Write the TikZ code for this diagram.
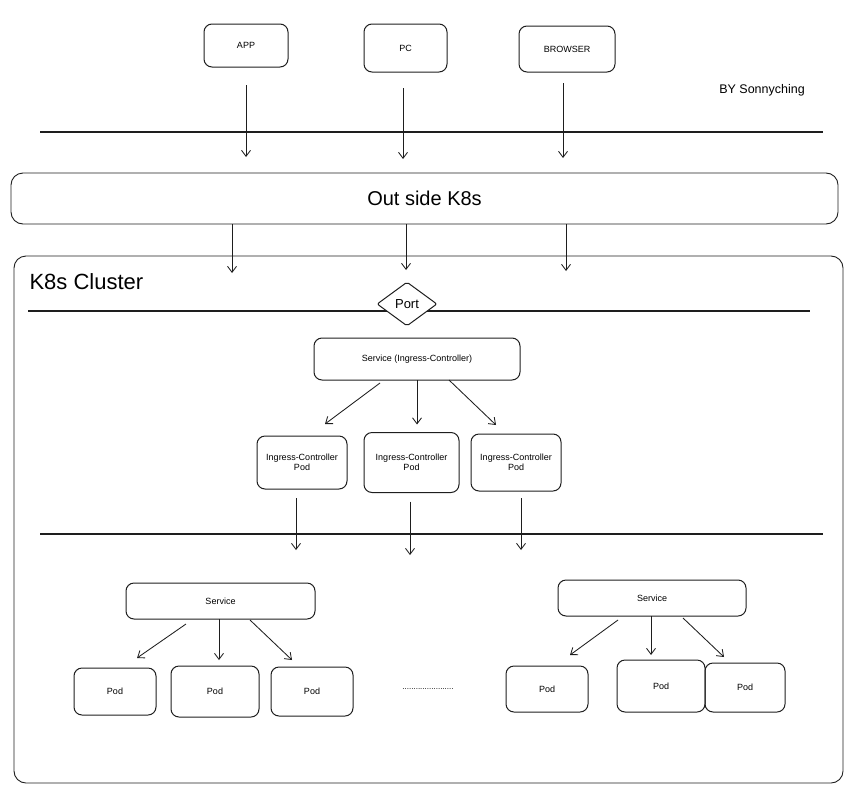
\documentclass[tikz,border=0pt]{standalone}
\usepackage{fontspec}
\setmainfont{Liberation Sans}
\usetikzlibrary{arrows.meta,positioning,shapes.geometric}
\definecolor{ink}{HTML}{1E1E1E}

\begin{document}
\begin{tikzpicture}[
    x=1pt, y=-1pt,
    box/.style={rectangle, draw=ink, line width=1pt, rounded corners=8pt, align=center, inner sep=2pt, outer sep=0pt, font=\fontsize{9}{10}\selectfont},
    frame/.style={rectangle, draw=ink, line width=0.9pt, rounded corners=12pt},
    arrow/.style={-{Straight Barb[length=6pt,width=9pt]}, line width=0.85pt, color=ink},
    rule/.style={line width=1.1pt, color=ink}
]
\useasboundingbox (0,0) rectangle (861,803);

\node[box, minimum width=84pt, minimum height=43pt] (app) at (246,45.5) {APP};
\node[box, minimum width=83pt, minimum height=48pt, right=76pt of app, yshift=-2.5pt] (pc) {PC};
\node[box, minimum width=96pt, minimum height=46pt, right=72pt of pc, yshift=-1pt] (browser) {BROWSER};
\node[font=\fontsize{12.5}{14}\selectfont] (credit) at (762,90) {BY Sonnyching};

\coordinate (appin) at (246,157);
\coordinate (pcin) at (403,159);
\coordinate (browserin) at (563,158);
\draw[rule] (40,132) -- (823,132);
\draw[arrow, shorten <=18pt] (app.south) -- (appin);
\draw[arrow, shorten <=16pt] (pc.south -| pcin) -- (pcin);
\draw[arrow, shorten <=11pt] (browser.south -| browserin) -- (browserin);

\node[frame, minimum width=827pt, minimum height=51pt, font=\fontsize{20}{22}\selectfont] (outside) at (424.5,198.5) {Out side K8s};
\node[frame, minimum width=829pt, minimum height=527pt] (cluster) at (428.5,519.5) {};
\node[anchor=west, font=\fontsize{22}{24}\selectfont] (title) at (26,282) {K8s Cluster};

\coordinate (k1) at (232,273);
\coordinate (k2) at (406,270);
\coordinate (k3) at (566,271);
\draw[arrow] (outside.south -| k1) -- (k1);
\draw[arrow] (outside.south -| k2) -- (k2);
\draw[arrow] (outside.south -| k3) -- (k3);

\draw[rule] (28,311) -- (810,311);
\node[diamond, draw=ink, fill=white, line width=1pt, rounded corners=2pt, inner sep=0pt, minimum width=60pt, minimum height=44pt, font=\fontsize{13}{14}\selectfont] (port) at (407,304) {Port};

\node[box, minimum width=206pt, minimum height=42pt] (ingsvc) at (417,359) {Service (Ingress-Controller)};
\node[box, minimum width=90pt, minimum height=53pt] (icpod1) at (302,462.5) {Ingress-Controller\\Pod};
\node[box, minimum width=95pt, minimum height=60pt, right=17pt of icpod1] (icpod2) {Ingress-Controller\\Pod};
\node[box, minimum width=90pt, minimum height=57pt, right=12pt of icpod2] (icpod3) {Ingress-Controller\\Pod};

\draw[arrow] ([xshift=-37pt,yshift=-3pt]ingsvc.south) -- ([xshift=23pt,yshift=12pt]icpod1.north);
\draw[arrow, shorten >=8pt] (ingsvc.south) -- (ingsvc.south |- icpod2.north);
\draw[arrow] ([xshift=32pt]ingsvc.south) -- ([xshift=-20pt,yshift=9pt]icpod3.north);

\coordinate (gw1) at (296,550);
\coordinate (gw2) at (410,555);
\coordinate (gw3) at (521,550);
\draw[rule] (40,534) -- (823,534);
\draw[arrow, shorten <=9pt] (icpod1.south -| gw1) -- (gw1);
\draw[arrow, shorten <=9pt] (icpod2.south -| gw2) -- (gw2);
\draw[arrow, shorten <=7pt] (icpod3.south -| gw3) -- (gw3);

\node[box, minimum width=189pt, minimum height=36pt] (svca) at (220.5,601) {Service};
\node[box, minimum width=82pt, minimum height=47pt] (poda1) at (115,691.5) {Pod};
\node[box, minimum width=88pt, minimum height=51pt, right=15pt of poda1] (poda2) {Pod};
\node[box, minimum width=82pt, minimum height=49pt, right=12pt of poda2] (poda3) {Pod};

\draw[arrow] ([xshift=-34.5pt,yshift=-5pt]svca.south) -- ([xshift=22pt,yshift=10pt]poda1.north);
\draw[arrow, shorten >=6pt] ([xshift=-1.5pt]svca.south) -- ([xshift=-1.5pt]svca.south |- poda2.north);
\draw[arrow] ([xshift=29.5pt,yshift=-1pt]svca.south) -- ([xshift=-20pt,yshift=7pt]poda3.north);

\node[font=\fontsize{8}{9}\selectfont] (more) at (428,689) {.......................};

\node[box, minimum width=188pt, minimum height=36pt] (svcb) at (652,598) {Service};
\node[box, minimum width=82pt, minimum height=46pt] (podb1) at (547,689) {Pod};
\node[box, minimum width=88pt, minimum height=52pt, right=29pt of podb1, yshift=3pt] (podb2) {Pod};
\node[box, minimum width=80pt, minimum height=49pt, right=0pt of podb2, yshift=-1.5pt] (podb3) {Pod};

\draw[arrow] ([xshift=-34pt,yshift=-4pt]svcb.south) -- ([xshift=23pt,yshift=11pt]podb1.north);
\draw[arrow, shorten >=5pt] ([xshift=-1pt]svcb.south) -- ([xshift=-1pt]svcb.south |- podb2.north);
\draw[arrow] ([xshift=31pt,yshift=-2pt]svcb.south) -- ([xshift=-21pt,yshift=6pt]podb3.north);
\end{tikzpicture}
\end{document}
